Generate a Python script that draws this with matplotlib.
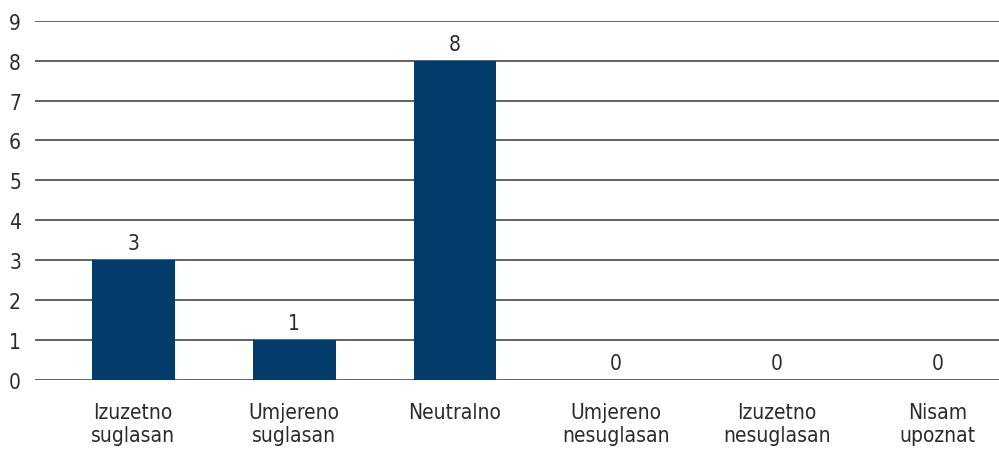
import matplotlib
matplotlib.use("Agg")
import matplotlib.pyplot as plt
import numpy as np

categories = ["Izuzetno\nsuglasan", "Umjereno\nsuglasan", "Neutralno",
              "Umjereno\nnesuglasan", "Izuzetno\nnesuglasan", "Nisam\nupoznat"]
values = [3, 1, 8, 0, 0, 0]
yticks = list(range(0, 10))

plt.rcParams['font.family'] = ['DejaVu Sans']
plt.rcParams['font.stretch'] = 'condensed'

text_color = "#2b2b2b"
bar_color = "#023d69"
fs = 15

fig = plt.figure(figsize=(9.99, 4.52), dpi=100)
ax = fig.add_axes([35 / 999, 71 / 452, 1 - 35 / 999, (381 - 21.7) / 452])

x = np.arange(len(categories))
ax.bar(x, values, width=0.515, color=bar_color, zorder=3)
for xi, v in zip(x, values):
    ax.text(xi, v + 0.17, str(v), ha="center", va="bottom", fontsize=fs, color=text_color)

ax.set_xlim(-0.61, 5.38)
ax.set_ylim(0, 9)
ax.set_yticks(yticks)
ax.set_xticks(x)
ax.set_xticklabels(categories, fontsize=fs, color=text_color, linespacing=1.15)
ax.tick_params(axis="y", length=0, pad=10, labelsize=fs, labelcolor=text_color)
ax.tick_params(axis="x", length=0, pad=16)
ax.yaxis.grid(True, color="#555555", linewidth=1.3, zorder=0)
ax.set_axisbelow(True)
for s in ax.spines.values():
    s.set_visible(False)

fig.savefig("out.png", dpi=100)
